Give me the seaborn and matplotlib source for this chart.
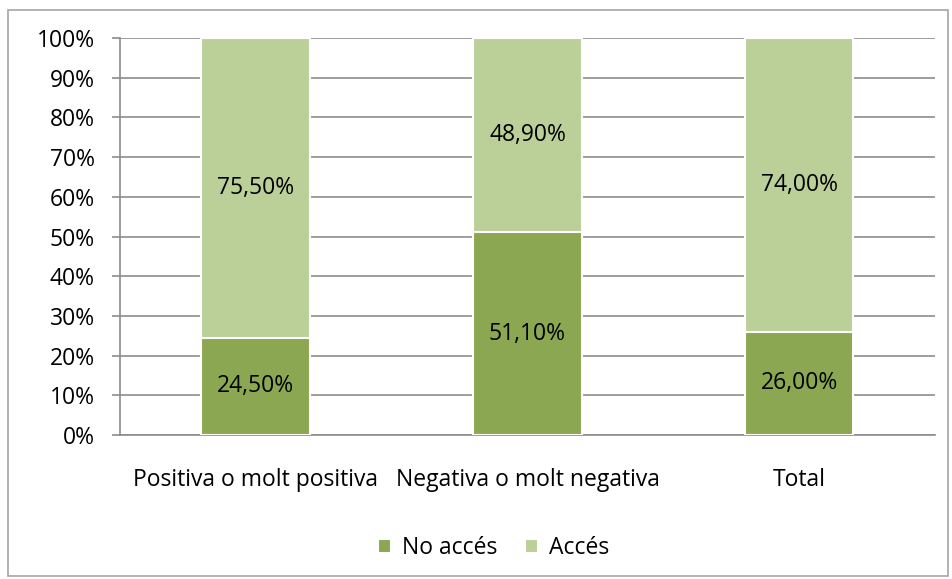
import pandas as pd
import matplotlib.pyplot as plt
import seaborn as sns
from matplotlib.patches import Rectangle
from matplotlib.ticker import PercentFormatter

categories = ['Positiva o molt positiva', 'Negativa o molt negativa', 'Total']
no_acces = [24.5, 51.1, 26.0]
acces = [75.5, 48.9, 74.0]
labels_no = ['24,50%', '51,10%', '26,00%']
labels_acc = ['75,50%', '48,90%', '74,00%']

dark = '#8BA751'
light = '#BBCF99'
grid_c = '#8c8c8c'
fs = 16.5

df = pd.DataFrame({'cat': categories, 'no': no_acces, 'acc': acces})
df['top'] = df['no'] + df['acc']

sns.set_style('white')
plt.rcParams['font.family'] = ['Open Sans', 'DejaVu Sans']
plt.rcParams['text.color'] = 'black'
plt.rcParams['xtick.labelcolor'] = 'black'
plt.rcParams['ytick.labelcolor'] = 'black'

fig = plt.figure(figsize=(9.53, 5.79), dpi=100)
ax = fig.add_axes([120 / 953, 1 - 435 / 579, (935 - 120) / 953, (435 - 38) / 579])

sns.barplot(data=df, x='cat', y='top', color=light, width=0.4, ax=ax, saturation=1,
            edgecolor='white', linewidth=1.5, label='Accés', zorder=3)
sns.barplot(data=df, x='cat', y='no', color=dark, width=0.4, ax=ax, saturation=1,
            edgecolor='white', linewidth=1.5, label='No accés', zorder=3)

for i in range(len(categories)):
    ax.text(i, no_acces[i] / 2, labels_no[i], ha='center', va='center', fontsize=fs, zorder=4)
    ax.text(i, no_acces[i] + acces[i] / 2, labels_acc[i], ha='center', va='center', fontsize=fs, zorder=4)

ax.set_ylim(0, 100)
ax.set_xlim(-0.5, 2.5)
ax.set_yticks(range(0, 101, 10))
ax.yaxis.set_major_formatter(PercentFormatter(decimals=0))
ax.yaxis.grid(True, color=grid_c, linewidth=1.2, zorder=0)
ax.set_axisbelow(True)
ax.set_xlabel('')
ax.set_ylabel('')

for s in ['top', 'right']:
    ax.spines[s].set_visible(False)
for s in ['left', 'bottom']:
    ax.spines[s].set_color(grid_c)
    ax.spines[s].set_linewidth(1.2)

ax.set_xticks([-0.5, 0.5, 1.5, 2.5], minor=True)
ax.tick_params(axis='x', which='minor', length=6, color=grid_c, width=1.2, direction='out')
ax.tick_params(axis='x', which='major', length=0, pad=24, labelsize=fs)
ax.tick_params(axis='y', length=6, color=grid_c, width=1.2, direction='out', labelsize=fs, pad=12, left=True)

handles, lbls = ax.get_legend_handles_labels()
order = [lbls.index('No accés'), lbls.index('Accés')]
if ax.get_legend():
    ax.get_legend().remove()
fig.legend([handles[k] for k in order], [lbls[k] for k in order], loc='center',
           bbox_to_anchor=(0.518, 1 - 548 / 579), ncol=2, frameon=False, fontsize=fs,
           handlelength=0.55, handleheight=0.55, handletextpad=0.5, columnspacing=1.2)

fig.patches.append(Rectangle((8 / 953, 3 / 579), 940 / 953, 566 / 579, transform=fig.transFigure,
                             fill=False, edgecolor='#a6a6a6', linewidth=1.2))

fig.savefig('out.png', dpi=100)
